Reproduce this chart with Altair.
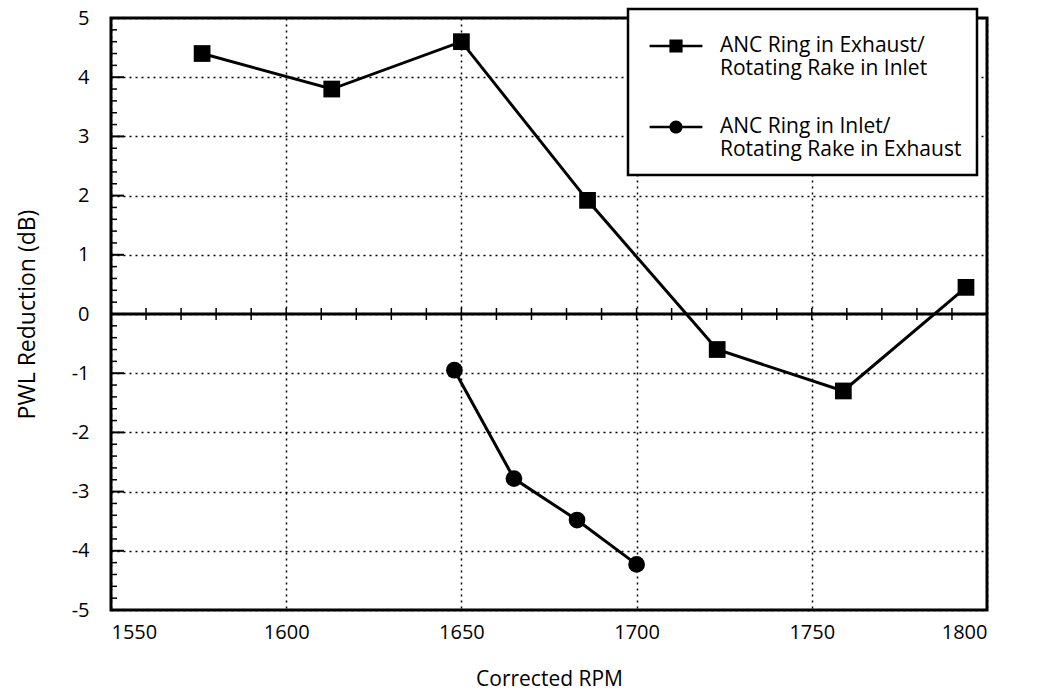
import altair as alt
import pandas as pd

# Series 1: ANC ring in exhaust / rotating rake in inlet (squares)
sq_name = "ANC Ring in Exhaust/Rotating Rake in Inlet"
sq_rpm = [1576, 1613, 1650, 1686, 1723, 1759, 1794]
sq_db = [4.4, 3.8, 4.6, 1.92, -0.6, -1.3, 0.45]

# Series 2: ANC ring in inlet / rotating rake in exhaust (circles)
ci_name = "ANC Ring in Inlet/Rotating Rake in Exhaust"
ci_rpm = [1648, 1665, 1683, 1700]
ci_db = [-0.95, -2.78, -3.48, -4.23]

x_ticks = [1550, 1600, 1650, 1700, 1750, 1800]
y_ticks = [-5, -4, -3, -2, -1, 0, 1, 2, 3, 4, 5]
y_minor = [round(-5 + 0.2 * i, 1) for i in range(51) if i % 5 != 0]
zero_ticks = list(range(1560, 1800, 10))

series_order = [sq_name, ci_name]

df = pd.DataFrame({
    "rpm": sq_rpm + ci_rpm,
    "db": sq_db + ci_db,
    "series": [sq_name] * len(sq_rpm) + [ci_name] * len(ci_rpm),
})

FONT = "Open Sans"

xscale = alt.Scale(domain=[1550, 1800], nice=False, zero=False)
yscale = alt.Scale(domain=[-5, 5], nice=False, zero=False)

x_enc = alt.X(
    "rpm:Q", scale=xscale, title="Corrected RPM",
    axis=alt.Axis(values=x_ticks, labelExpr="'' + datum.value", ticks=False, domain=False,
                  grid=True, gridDash=[2, 4], gridColor="black", gridWidth=1.5,
                  gridOpacity=1, labelFontSize=20, labelColor="black",
                  labelPadding=12, titleFontSize=21, titleFontWeight="normal",
                  titleColor="black", titlePadding=26, labelFont=FONT, titleFont=FONT),
)
y_enc = alt.Y(
    "db:Q", scale=yscale, title="PWL Reduction (dB)",
    axis=alt.Axis(values=y_ticks, labelExpr="'' + datum.value", ticks=False, domain=False,
                  grid=True, gridDash=[2, 4], gridColor="black", gridWidth=1.5,
                  gridOpacity=1, labelFontSize=20, labelColor="black",
                  labelPadding=22, titleFontSize=23, titleFontWeight="normal",
                  titleColor="black", titlePadding=32, labelFont=FONT, titleFont=FONT),
)

base = alt.Chart(df)

lines = base.mark_line(color="black", strokeWidth=3).encode(
    x=x_enc, y=y_enc, detail="series:N"
)

sq_points = base.transform_filter(alt.datum.series == sq_name).mark_point(
    filled=True, color="black", opacity=1, size=280, shape="square"
).encode(x=alt.X("rpm:Q", scale=xscale), y=alt.Y("db:Q", scale=yscale))

ci_points = base.transform_filter(alt.datum.series == ci_name).mark_point(
    filled=True, color="black", opacity=1, size=280, shape="circle"
).encode(x=alt.X("rpm:Q", scale=xscale), y=alt.Y("db:Q", scale=yscale))

# legend-only layer (no data drawn): custom filled line+marker symbols
sq_path = "M-1.2,-0.06H1.2V0.06H-1.2ZM-0.3,-0.3H0.3V0.3H-0.3Z"
ci_path = "M-1.2,-0.06H1.2V0.06H-1.2ZM-0.3,0A0.3,0.3,0,1,1,0.3,0A0.3,0.3,0,1,1,-0.3,0Z"

legend_layer = base.transform_filter("false").mark_point(
    filled=True, color="black", opacity=1
).encode(
    x=alt.X("rpm:Q", scale=xscale),
    y=alt.Y("db:Q", scale=yscale),
    shape=alt.Shape(
        "series:N",
        scale=alt.Scale(domain=series_order, range=[sq_path, ci_path]),
        legend=alt.Legend(
            title=None, orient="none", legendX=517, legendY=-9,
            fillColor="white", strokeColor="black", padding=15,
            symbolSize=1936, symbolStrokeWidth=0, symbolFillColor="black",
            symbolOpacity=1, symbolOffset=11,
            labelFont=FONT, labelFontSize=21, labelColor="black",
            labelLimit=400, labelOffset=22, rowPadding=26,
            labelExpr="[split(datum.label, '/')[0] + '/', split(datum.label, '/')[1]]",
        ),
    ),
)

zero_line = alt.Chart(pd.DataFrame({"y": [0]})).mark_rule(color="black", strokeWidth=3).encode(
    y=alt.Y("y:Q", scale=yscale)
)

zero_tick_df = pd.DataFrame({"x": zero_ticks, "y": [0] * len(zero_ticks)})
zero_tick_marks = alt.Chart(zero_tick_df).mark_tick(
    orient="vertical", size=12, thickness=1.5, color="black", opacity=1
).encode(
    x=alt.X("x:Q", scale=xscale), y=alt.Y("y:Q", scale=yscale)
)

minor_df = pd.DataFrame({"y": y_minor})
minor_ticks = alt.Chart(minor_df).mark_rule(color="black", strokeWidth=1.5).encode(
    y=alt.Y("y:Q", scale=yscale), x=alt.value(0), x2=alt.value(6)
)

major_df = pd.DataFrame({"y": y_ticks})
major_ticks = alt.Chart(major_df).mark_rule(color="black", strokeWidth=2).encode(
    y=alt.Y("y:Q", scale=yscale), x=alt.value(0), x2=alt.value(13)
)

chart = alt.layer(
    minor_ticks, major_ticks, zero_line, zero_tick_marks, lines, sq_points, ci_points, legend_layer
).properties(
    width=876, height=592,
    autosize=alt.AutoSizeParams(type="none"),
    padding={"left": 111, "top": 18, "right": 51, "bottom": 83},
    background="white",
).configure_view(
    stroke="black", strokeWidth=3
)

try:
    trial = chart.configure_legend(strokeWidth=2.5)
    trial.to_dict()
    chart = trial
except Exception:
    pass

chart.save("out.html", embed_options={"renderer": "svg", "actions": False})
